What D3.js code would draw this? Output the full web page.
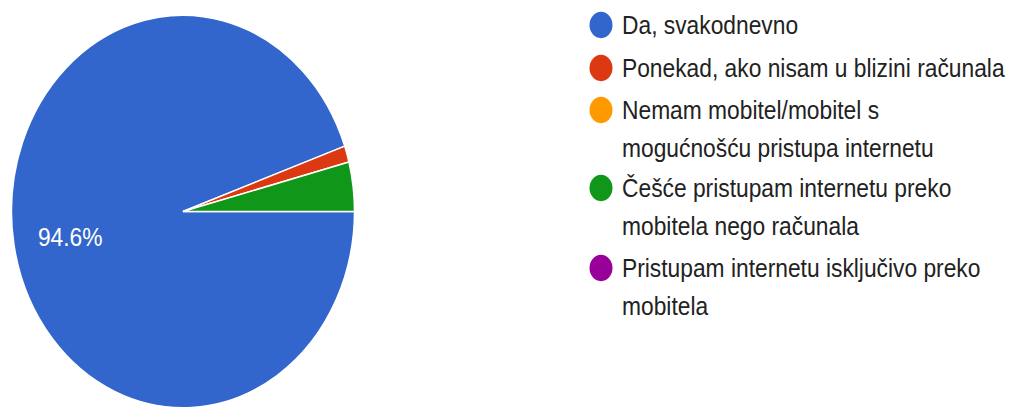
<!DOCTYPE html>
<html>
<head>
<meta charset="utf-8">
<script src="https://cdn.jsdelivr.net/npm/d3@7"></script>
<style>
  html, body { margin: 0; padding: 0; background: #fff; }
  svg { display: block; }
  text { font-family: "Liberation Sans", Arial, sans-serif; }
</style>
</head>
<body>
<svg id="chart" width="1011" height="409"></svg>
<script>
// ---- data ----
const categories = [
  "Da, svakodnevno",
  "Ponekad, ako nisam u blizini računala",
  "Nemam mobitel/mobitel s mogućnošću pristupa internetu",
  "Češće pristupam internetu preko mobitela nego računala",
  "Pristupam internetu isključivo preko mobitela"
];
const legendLines = [
  ["Da, svakodnevno"],
  ["Ponekad, ako nisam u blizini računala"],
  ["Nemam mobitel/mobitel s", "mogućnošću pristupa internetu"],
  ["Češće pristupam internetu preko", "mobitela nego računala"],
  ["Pristupam internetu isključivo preko", "mobitela"]
];
const values = [70, 1, 0, 3, 0];
const colors = ["#3366cc", "#dc3912", "#ff9900", "#109618", "#990099"];

// ---- layout ----
const W = 1011, H = 409;
const ky = 1.144;             // vertical stretch of the picture
const cx = 183, cy = 211.5 / ky, r = 171.5;
const fontSize = 22.8;

const svg = d3.select("#chart");
const root = svg.append("g").attr("transform", `scale(1,${ky})`);

const data = categories.map((c, i) => ({ name: c, value: values[i], color: colors[i] }));
const total = d3.sum(values);

const pie = d3.pie().sort(null).value(d => d.value)
  .startAngle(Math.PI / 2).endAngle(Math.PI / 2 + 2 * Math.PI);
const arcs = pie(data);
const arc = d3.arc().innerRadius(0).outerRadius(r);

const g = root.append("g").attr("transform", `translate(${cx},${cy})`);
g.selectAll("path.slice")
  .data(arcs.filter(a => a.data.value > 0))
  .join("path")
  .attr("class", "slice")
  .attr("d", arc)
  .attr("fill", d => d.data.color)
  .attr("stroke", "#fff")
  .attr("stroke-width", 1.5)
  .attr("vector-effect", "non-scaling-stroke");

// percentage label (only for large slices)
const labelArc = d3.arc().innerRadius(r * 0.667).outerRadius(r * 0.667);
g.selectAll("text.pct")
  .data(arcs.filter(a => a.data.value / total > 0.1))
  .join("text")
  .attr("class", "pct")
  .attr("transform", d => `translate(${labelArc.centroid(d)})`)
  .attr("text-anchor", "middle")
  .attr("dy", "0.48em")
  .attr("fill", "#fff")
  .attr("font-size", fontSize)
  .text(d => d3.format(".1%")(d.data.value / total));

// ---- legend ----
const legendX = 601, textX = 622;
const rowCenters = [25, 68, 110, 188, 268];  // image coords of first-line centers
const lineStep = 38;                          // image px between wrapped lines
const lg = root.append("g");
legendLines.forEach((lines, i) => {
  const yc = rowCenters[i] / ky;
  lg.append("ellipse")
    .attr("cx", legendX).attr("cy", yc)
    .attr("rx", 11.5).attr("ry", 11.5)
    .attr("fill", colors[i]);
  const t = lg.append("text")
    .attr("x", textX).attr("y", yc)
    .attr("font-size", fontSize)
    .attr("fill", "#222");
  lines.forEach((ln, j) => {
    t.append("tspan").attr("x", textX).attr("y", yc + j * lineStep / ky)
      .attr("dy", "0.36em").text(ln);
  });
});
</script>
</body>
</html>
